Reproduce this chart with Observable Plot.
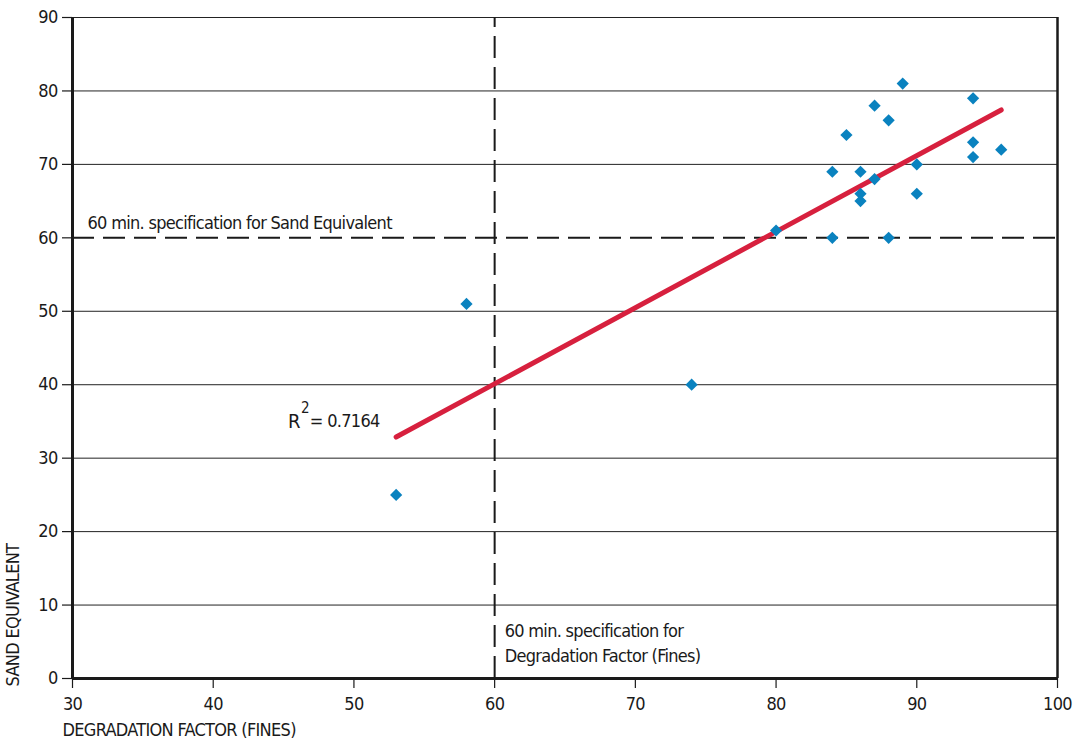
<!DOCTYPE html>
<html>
<head>
<meta charset="utf-8">
<script src="https://cdn.jsdelivr.net/npm/d3@7"></script>
<script src="https://cdn.jsdelivr.net/npm/@observablehq/plot@0.6"></script>
<style>
  html, body { margin: 0; padding: 0; background: #ffffff; }
  #chart svg { display: block; letter-spacing: -0.7px; }
</style>
</head>
<body>
<div id="chart"></div>
<script>
// Aggregate samples: degradation factor (fines) vs. sand equivalent
const degradation = [53, 58, 74, 80, 84, 84, 85, 86, 86, 86, 87, 87, 88, 88, 89, 90, 90, 94, 94, 94, 96];
const sandEquivalent = [25, 51, 40, 61, 60, 69, 74, 69, 66, 65, 78, 68, 76, 60, 81, 70, 66, 79, 73, 71, 72];

// Axis ticks
const xTicks = [30, 40, 50, 60, 70, 80, 90, 100];
const yTicks = [0, 10, 20, 30, 40, 50, 60, 70, 80, 90];

// Minimum specifications
const specDegradation = [60];
const specSandEquivalent = [60];

// Annotation texts
const sandSpecLabel = "60 min. specification for Sand Equivalent";
const degradationSpecLabel = "60 min. specification for\nDegradation Factor (Fines)";
const rSquared = "0.7164";
const xLabel = "DEGRADATION FACTOR (FINES)";
const yLabel = "SAND EQUIVALENT";

const samples = degradation.map((d, i) => ({degradation: d, sand: sandEquivalent[i]}));

const font = "'Liberation Sans Narrow', 'DejaVu Sans Condensed', 'Roboto', sans-serif";
const ink = "#1a1a1a";
const dash = "22,9";

// grid lines, except where a specification line is drawn
const gridTicks = yTicks.filter(t => !specSandEquivalent.includes(t));

const chart = Plot.plot({
  width: 1079,
  height: 749,
  marginLeft: 72,
  marginRight: 22,
  marginTop: 17,
  marginBottom: 71,
  style: {fontFamily: font, fontSize: "18px", color: ink, background: "#ffffff"},
  x: {domain: [30, 100]},
  y: {domain: [0, 90]},
  marks: [
    // horizontal grid
    Plot.gridY(gridTicks, {stroke: "#222", strokeOpacity: 1, strokeWidth: 1}),
    // frame: thick left, bottom and right edges
    Plot.ruleX([100], {y1: 0, y2: 90, stroke: ink, strokeWidth: 2.5}),
    Plot.ruleX([30], {y1: 0, y2: 90, stroke: ink, strokeWidth: 3}),
    Plot.ruleY([0], {x1: 30, x2: 100, stroke: ink, strokeWidth: 3}),
    // axes
    Plot.axisX(xTicks, {tickSize: 10, tickPadding: 9, stroke: ink, strokeWidth: 1.2, label: null, fontSize: 18}),
    Plot.axisY(yTicks, {tickSize: 10, tickPadding: 5, stroke: ink, strokeWidth: 1.2, label: null, fontSize: 18}),
    // specification lines
    Plot.ruleY(specSandEquivalent, {x1: 30, x2: 100, stroke: ink, strokeWidth: 2, strokeDasharray: dash}),
    Plot.ruleX(specDegradation, {y1: 0, y2: 90, stroke: ink, strokeWidth: 2, strokeDasharray: dash}),
    Plot.text([sandSpecLabel], {x: 30, y: specSandEquivalent[0], dx: 15, dy: -15, textAnchor: "start", lineAnchor: "middle", fill: ink}),
    Plot.text([degradationSpecLabel], {x: specDegradation[0], y: 0, dx: 10, dy: -37, textAnchor: "start", lineAnchor: "middle", lineHeight: 1.38, fill: ink}),
    // regression line
    Plot.linearRegressionY(samples, {x: "degradation", y: "sand", stroke: "#d7203e", strokeWidth: 5, ci: 0}),
    // samples
    Plot.dot(samples, {x: "degradation", y: "sand", symbol: "diamond2", r: 5.5, fill: "#0a82bf", stroke: "none"}),
    // R² annotation
    Plot.text(["R"], {x: 49, y: 35, dx: -40, dy: 0, textAnchor: "end", fontSize: 20, fill: ink}),
    Plot.text(["2"], {x: 49, y: 35, dx: -35, dy: -13, textAnchor: "middle", fontSize: 15, fill: ink}),
    Plot.text(["= " + rSquared], {x: 49, y: 35, dx: -30, dy: 0, textAnchor: "start", fill: ink}),
    // axis titles
    Plot.text([xLabel], {frameAnchor: "bottom-left", dx: -10, dy: 57, textAnchor: "start", fill: ink}),
    Plot.text([yLabel], {frameAnchor: "bottom-left", dx: -54, dy: 8, rotate: -90, textAnchor: "start", fill: ink})
  ]
});

document.getElementById("chart").appendChild(chart);
</script>
</body>
</html>
